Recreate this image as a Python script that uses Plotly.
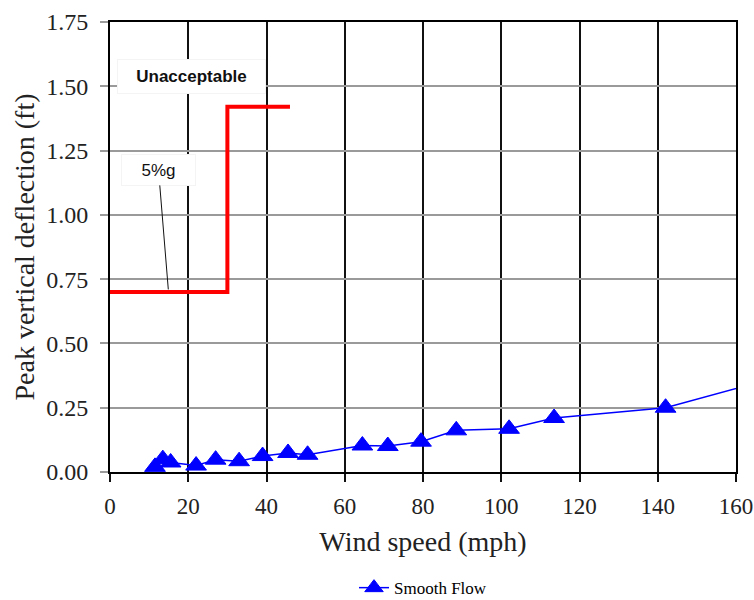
import plotly.graph_objects as go

# Smooth Flow series (wind speed mph, peak vertical deflection ft)
wind_speed = [11.5, 13.5, 15.5, 22, 27, 33, 39, 45.5, 50.5, 64.5, 71, 79.5, 88.5, 102, 113.5, 142, 180]
deflection = [0.02, 0.05, 0.037, 0.025, 0.048, 0.042, 0.062, 0.074, 0.067, 0.103, 0.101, 0.118, 0.162, 0.168, 0.21, 0.25, 0.408]

# 5%g acceptability limit (step)
limit_speed = [0, 30, 30, 46]
limit_defl = [0.70, 0.70, 1.42, 1.42]

x_ticks = [0, 20, 40, 60, 80, 100, 120, 140, 160]
y_ticks = [0.00, 0.25, 0.50, 0.75, 1.00, 1.25, 1.50, 1.75]

serif = "Liberation Serif, Times New Roman, serif"
sans = "Liberation Sans, Arial, sans-serif"

fig = go.Figure()
fig.add_trace(go.Scatter(
    x=limit_speed, y=limit_defl, mode="lines",
    line=dict(color="#ff0000", width=4), showlegend=False, hoverinfo="skip"))
fig.add_trace(go.Scatter(
    x=wind_speed, y=deflection, mode="lines+markers", name="Smooth Flow",
    line=dict(color="#0000ff", width=1.5),
    marker=dict(symbol="triangle-up", size=18, color="#0000ff",
                line=dict(color="#0000ff", width=1))))

fig.update_layout(
    width=754, height=600,
    margin=dict(l=110, r=18, t=22, b=128, autoexpand=False),
    paper_bgcolor="white", plot_bgcolor="white",
    font=dict(family=serif, color="black"),
    showlegend=True,
    legend=dict(orientation="h", x=0.5, xanchor="center", y=-0.258, yanchor="middle",
                font=dict(family=serif, size=17, color="black"), bgcolor="rgba(0,0,0,0)"),
    xaxis=dict(range=[0, 160], tickvals=x_ticks, ticktext=[str(v) for v in x_ticks],
               automargin=False,
               showgrid=True, gridcolor="#111111", gridwidth=1.5,
               showline=True, linecolor="black", linewidth=2, mirror=True,
               ticks="outside", ticklen=8, tickcolor="#111111", tickwidth=1.5,
               ticklabelstandoff=4,
               tickfont=dict(family=serif, size=23, color="#222222"),
               zeroline=False,
               title=dict(text="Wind speed (mph)", font=dict(family=serif, size=28, color="#222222"),
                          standoff=14)),
    yaxis=dict(range=[0, 1.75], tickvals=y_ticks, ticktext=["%.2f" % v for v in y_ticks],
               automargin=False,
               showgrid=True, gridcolor="#9a9a9a", gridwidth=1.5,
               showline=True, linecolor="black", linewidth=2, mirror=True,
               ticks="outside", ticklen=8, tickcolor="#9a9a9a", tickwidth=1.5,
               ticklabelstandoff=7,
               tickfont=dict(family=serif, size=24, color="#222222"),
               zeroline=False,
               title=dict(text="Peak vertical deflection (ft)",
                          font=dict(family=serif, size=28, color="#222222"), standoff=3)),
)

fig.add_annotation(x=20.8, y=1.538, xref="x", yref="y", text="<b>Unacceptable</b>",
                   showarrow=False, bgcolor="white", bordercolor="#f4f4f4", borderwidth=1,
                   width=145, height=31, font=dict(family=sans, size=17, color="#111111"))
fig.add_annotation(x=14.9, y=0.71, xref="x", yref="y", ax=12.4, ay=1.175,
                   axref="x", ayref="y", text="5%g", showarrow=True, arrowhead=0,
                   arrowwidth=1, arrowcolor="#111111", standoff=0, startstandoff=0,
                   bgcolor="white", bordercolor="#f4f4f4", borderwidth=1,
                   width=71, height=28, font=dict(family=sans, size=17, color="#111111"))

# remove the default page margin so the 754x600 figure fills the window exactly
fig.write_html("out.html", config={"displayModeBar": False},
               post_script="document.body.style.margin='0';document.body.style.overflow='hidden';")
